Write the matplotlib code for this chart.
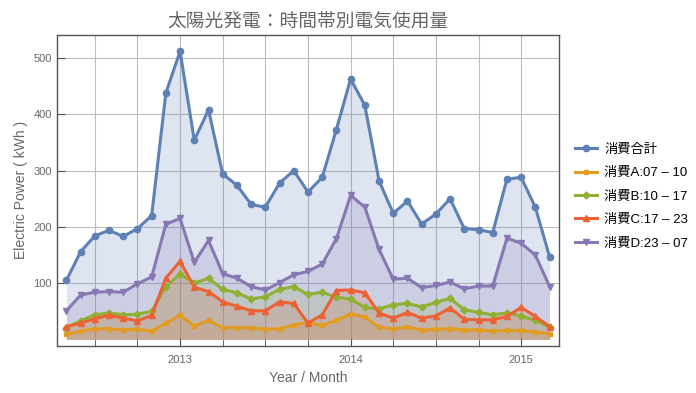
import matplotlib
matplotlib.use("Agg")
import matplotlib.pyplot as plt

plt.rcParams['font.family'] = ['Liberation Sans', 'Noto Sans CJK JP', 'DejaVu Sans']

# --- data: monthly values, May 2012 .. Mar 2015 ---
total = [105, 156, 184, 194, 183, 197, 220, 438, 512, 354, 408, 294, 274, 240, 235, 278, 300, 262,
         288, 373, 463, 416, 282, 224, 246, 205, 223, 250, 197, 195, 190, 285, 288, 235, 147]
use_a = [9, 15, 19, 19, 17, 18, 15, 29, 43, 24, 34, 21, 21, 21, 18, 19, 26, 30,
         25, 34, 45, 40, 22, 19, 22, 17, 18, 19, 17, 17, 15, 16, 16, 13, 10]
use_b = [21, 33, 44, 47, 44, 45, 50, 94, 116, 100, 109, 89, 83, 72, 76, 89, 94, 80,
         84, 75, 72, 57, 54, 62, 64, 58, 66, 73, 53, 48, 44, 47, 42, 34, 22]
use_c = [23, 29, 37, 43, 38, 33, 43, 109, 139, 93, 85, 67, 59, 51, 51, 67, 64, 29,
         44, 87, 88, 83, 47, 38, 48, 38, 42, 56, 36, 35, 35, 41, 57, 41, 23]
use_d = [51, 79, 84, 85, 84, 99, 111, 205, 215, 137, 176, 117, 109, 94, 88, 101, 115, 121,
         134, 179, 256, 235, 160, 107, 109, 92, 96, 102, 90, 95, 95, 180, 171, 150, 94]

labels = ["消費合計", "消費A:07 – 10", "消費B:10 – 17", "消費C:17 – 23", "消費D:23 – 07"]
colors = ["#5E81B5", "#E19C24", "#8FB032", "#EB6235", "#8778B3"]
markers = ["o", "s", "D", "^", "v"]
msizes = [4.5, 3.2, 3.5, 5, 5]

year_labels = ["2013", "2014", "2015"]
year_pos = [8, 20, 32]           # month index of January
quarter_pos = [2, 5, 11, 14, 17, 23, 26, 29]

months = list(range(len(total)))
series = [total, use_a, use_b, use_c, use_d]

fig = plt.figure(figsize=(6.96, 3.93), dpi=100)
ax = fig.add_axes([0.0815, 0.1204, 0.722, 0.7906])

for vals, lab, col, mk, ms in zip(series, labels, colors, markers, msizes):
    ax.fill_between(months, 0, vals, color=col, alpha=0.2, linewidth=0)
    ax.plot(months, vals, color=col, lw=2.2, marker=mk, ms=ms, label=lab)

ax.set_xlim(-0.68, 34.68)
ax.set_ylim(-11, 541)
ax.set_xticks(year_pos)
ax.set_xticklabels(year_labels)
ax.set_xticks(quarter_pos, minor=True)
ax.set_yticks([100, 200, 300, 400, 500])

ax.grid(True, which="both", color="#BBBBBB", lw=0.8)
ax.set_axisbelow(True)
ax.tick_params(which="major", direction="in", length=6, color="#555555",
               labelcolor="#666666", labelsize=8)
ax.tick_params(which="minor", direction="in", length=4, color="#555555")
ax.tick_params(axis="x", pad=7)
for s in ax.spines.values():
    s.set_color("#555555")
    s.set_linewidth(1.0)

ax.set_title("太陽光発電：時間帯別電気使用量", color="#666666", fontsize=13.5, pad=6)
ax.set_xlabel("Year / Month", color="#666666", fontsize=10)
ax.set_ylabel("Electric Power ( kWh )", color="#666666", fontsize=10)

ax.legend(loc="center left", bbox_to_anchor=(1.0, 0.48), frameon=False,
          fontsize=9.5, handlelength=1.7, handletextpad=0.5,
          labelspacing=0.85, borderaxespad=0.8)

fig.savefig("out.png", dpi=100)
